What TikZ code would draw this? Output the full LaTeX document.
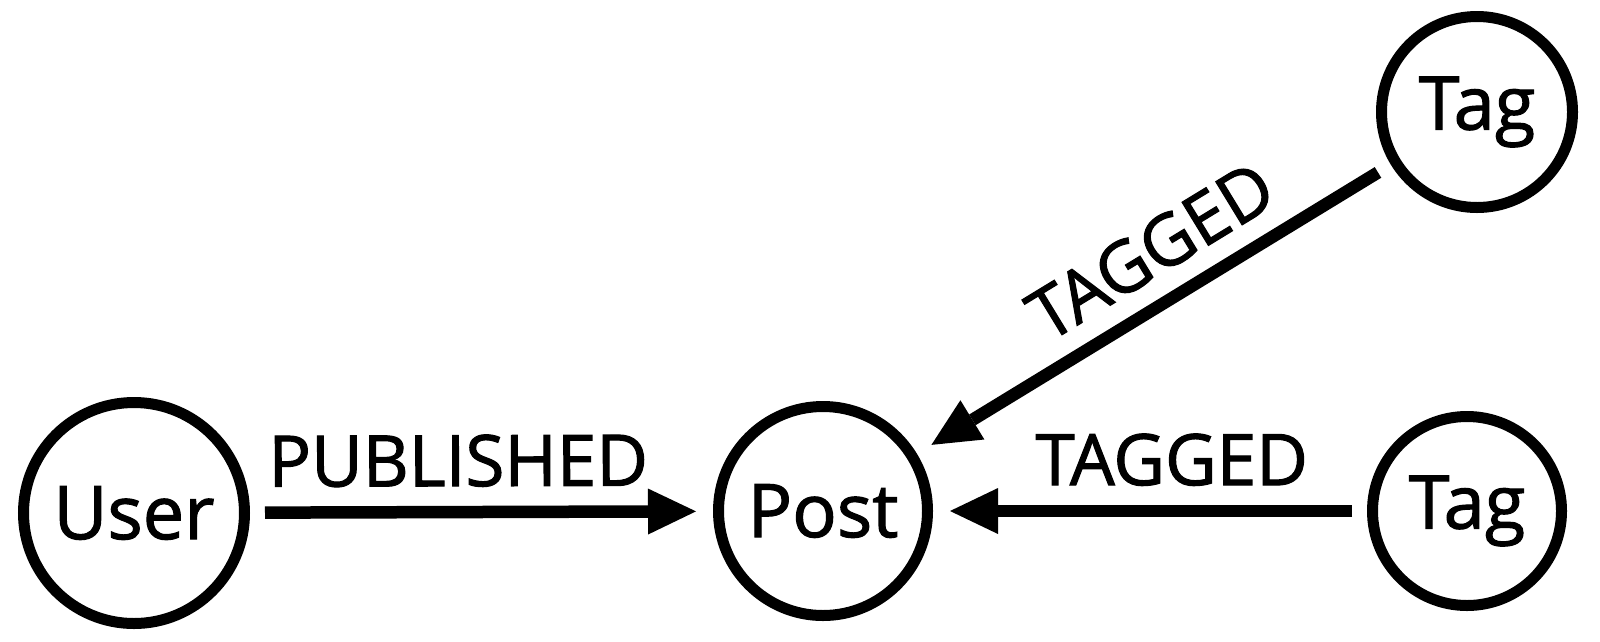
\documentclass[tikz,border=0pt]{standalone}
\usepackage{fontspec}
\setmainfont{Open Sans}[FakeBold=1.5]
\usetikzlibrary{arrows.meta}
\begin{document}
\begin{tikzpicture}[x=1pt,y=-1pt,
  entity/.style={circle, draw, line width=11pt, inner sep=0pt, font=\fontsize{74}{84}\selectfont},
  rel/.style={line width=12.5pt, -{Triangle[length=48pt,width=46pt,line width=0pt]}, shorten <=15pt, shorten >=17pt},
  rlabel/.style={font=\fontsize{71}{80}\selectfont, sloped, anchor=south, inner ysep=19pt, inner xsep=0pt, pos=0.45}]
\useasboundingbox (0,0) rectangle (1600,641);
\node[entity, minimum size=221pt] (user) at (134,513) {User};
\node[entity, minimum size=209pt] (post) at (823,511) {Post};
\node[entity, minimum size=189pt] (tagb) at (1467,511) {Tag};
\node[entity, minimum size=191pt] (tagt) at (1477,112) {Tag};
\draw[rel] (user) -- node[rlabel] {PUBLISHED} (post);
\draw[rel] (tagb) -- node[rlabel] {TAGGED} (post);
\draw[rel] (tagt) -- node[rlabel] {TAGGED} (post);
\end{tikzpicture}
\end{document}
